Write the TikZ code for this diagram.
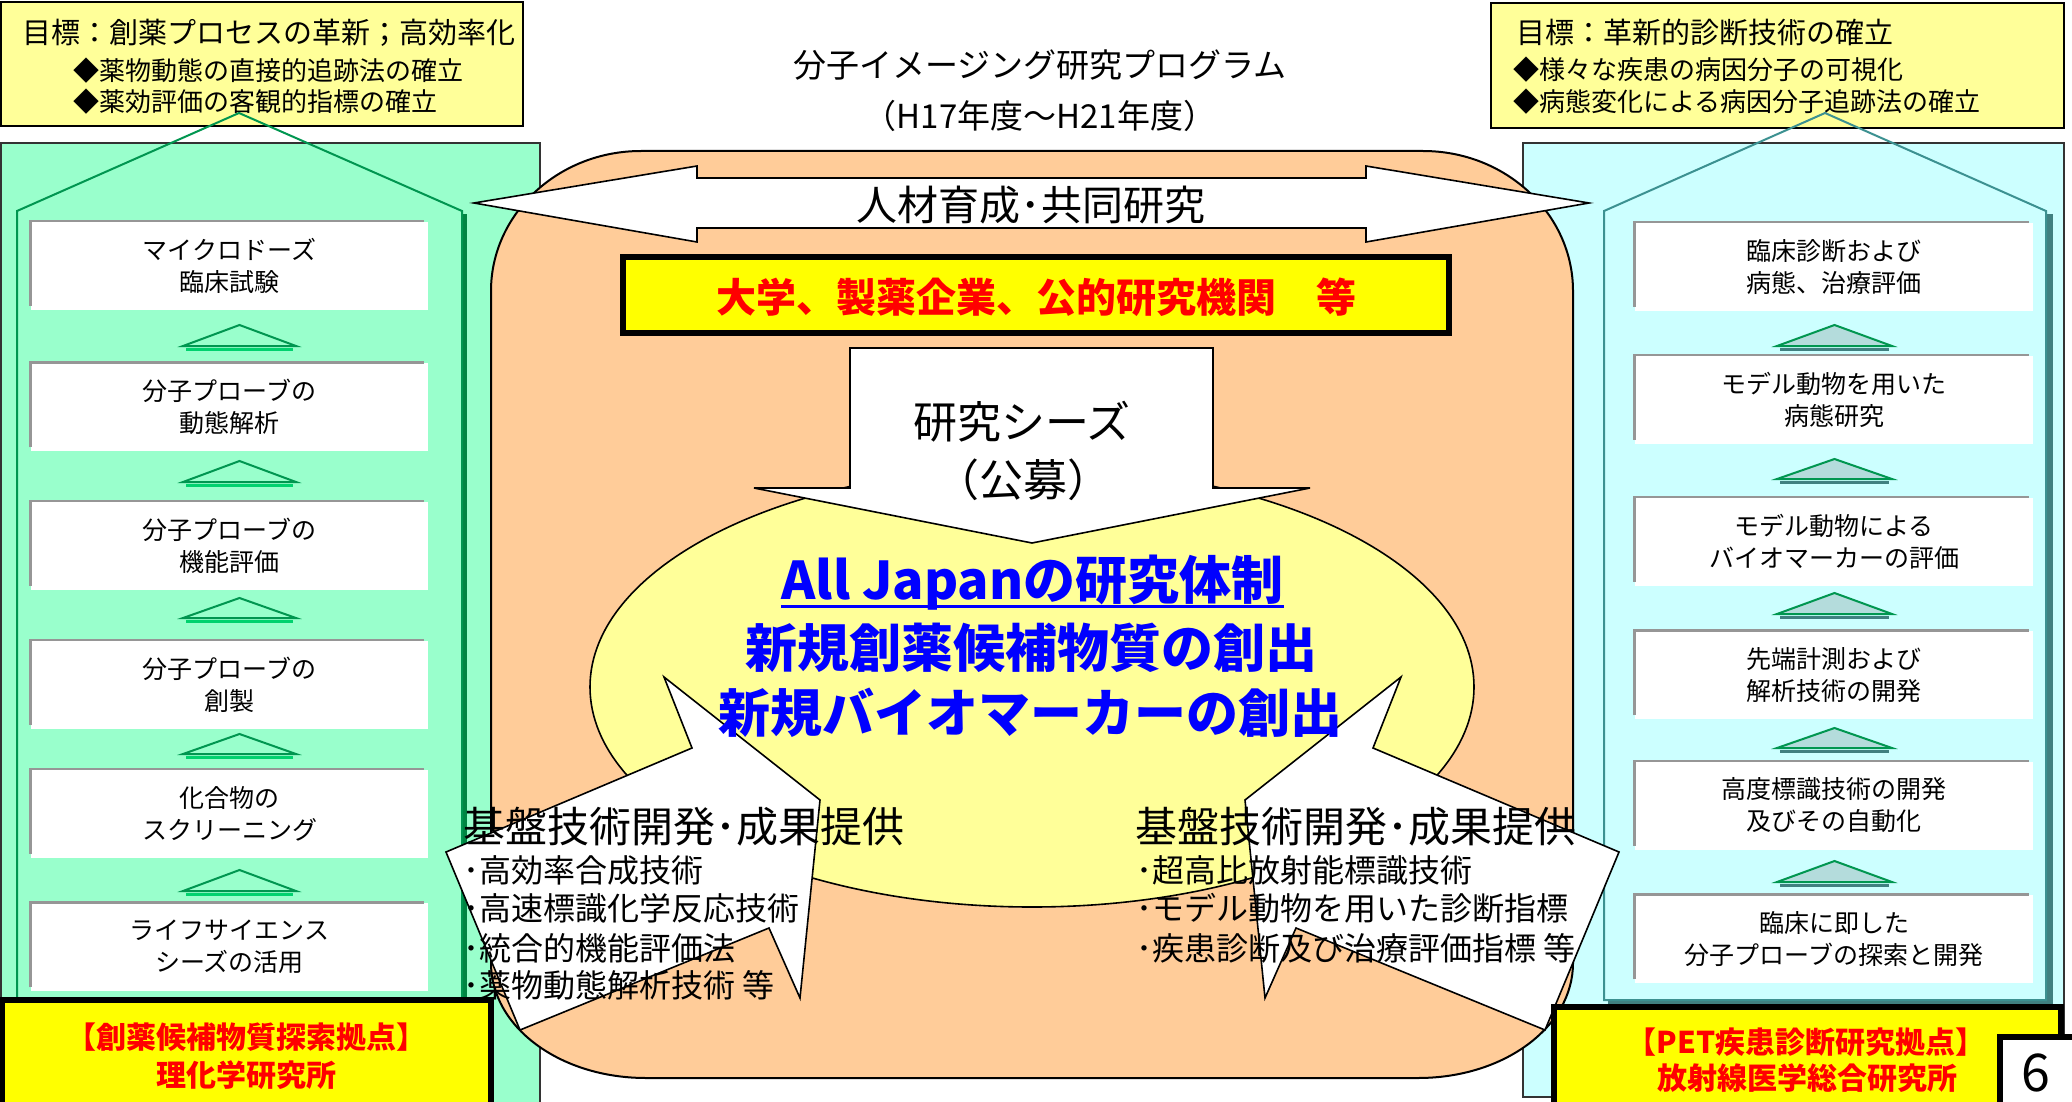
\documentclass[tikz,border=0pt]{standalone}
\usepackage{fontspec}
\setmainfont{Noto Sans CJK JP}
\usetikzlibrary{calc}
\definecolor{lyellow}{RGB}{255,255,153}
\definecolor{pgreen}{RGB}{153,255,204}
\definecolor{pcyan}{RGB}{204,255,255}
\definecolor{peachc}{RGB}{255,204,153}
\definecolor{gline}{RGB}{0,150,80}
\definecolor{gdark}{RGB}{0,133,66}
\definecolor{gbright}{RGB}{0,210,110}
\definecolor{tline}{RGB}{60,145,145}
\definecolor{tdark}{RGB}{64,128,128}
\definecolor{trifill}{RGB}{180,220,220}
\definecolor{cardgray}{RGB}{150,150,150}
\definecolor{pureyellow}{RGB}{255,255,0}
\definecolor{purered}{RGB}{255,0,0}
\definecolor{pureblue}{RGB}{0,0,255}
\newcommand\myfs[2]{\fontsize{#1}{#2}\selectfont}
\begin{document}
\begin{tikzpicture}[x=0.5pt,y=-0.5pt,
  panelL/.style={fill=pgreen,draw=black!80,line width=0.75pt},
  panelR/.style={fill=pcyan,draw=black!80,line width=0.75pt},
  goalbox/.style={fill=lyellow,draw=black,line width=1.1pt},
  pentL/.style={draw=gline,line width=1pt,line join=miter},
  pentshL/.style={draw=gdark,line width=2.5pt},
  pentR/.style={draw=tline,line width=1pt,line join=miter},
  pentshR/.style={draw=tdark,line width=3pt},
  peachshape/.style={fill=peachc,draw=black,line width=1pt},
  wshape/.style={fill=white,draw=black,line width=0.8pt,line join=miter},
  orgbox/.style={fill=pureyellow,draw=black,line width=3pt},
  cardL/.style={fill=white,minimum width=198.5pt,minimum height=44pt,inner sep=0pt,align=center,font=\myfs{12.5}{16}},
  cardR/.style={cardL,minimum width=199pt},
  cardedge/.style={draw=cardgray,line width=1.3pt},
  triL/.style={draw=gline,fill=pgreen,line width=1pt,line join=miter},
  trishL/.style={draw=gbright,line width=1.5pt},
  triR/.style={draw=gline,fill=trifill,line width=1pt,line join=miter},
  trishR/.style={draw=tdark,line width=1.5pt},
  goalhead/.style={anchor=west,inner sep=0pt,font=\myfs{14.5}{17}},
  goalitem/.style={anchor=west,inner sep=0pt,font=\myfs{13}{16}},
  titletext/.style={inner sep=0pt,font=\myfs{16.5}{20}},
  basetitle/.style={anchor=west,inner sep=0pt,font=\myfs{21}{24}},
  bullet/.style={anchor=west,inner sep=0pt,font=\myfs{16}{19}},
  bluetext/.style={inner sep=0pt,text=pureblue,font=\bfseries\myfs{26}{30}},
  redtext/.style={inner sep=0pt,text=purered,font=\bfseries\myfs{15}{18}}
]
\useasboundingbox (0,0) rectangle (2072,1102);
\fill[white] (0,0) rectangle (2072,1102);

% side panels
\draw[panelL] (1,143) rectangle (540,1115);
\draw[panelR] (1523,143) rectangle (2064,1097);

% goal boxes
\draw[goalbox] (1,2) rectangle (523,126);
\draw[goalbox] (1491,3) rectangle (2064,128);
\node[goalhead] (gl1) at (22,33) {目標：創薬プロセスの革新；高効率化};
\node[goalitem] (gl2) at (73,71) {◆薬物動態の直接的追跡法の確立};
\node[goalitem] (gl3) at (73,102) {◆薬効評価の客観的指標の確立};
\node[goalhead] (gr1) at (1516,33) {目標：革新的診断技術の確立};
\node[goalitem] (gr2) at (1513,70) {◆様々な疾患の病因分子の可視化};
\node[goalitem] (gr3) at (1513,102) {◆病態変化による病因分子追跡法の確立};

% pentagons
\draw[pentshL] (464.5,214) -- (464.5,1000);
\draw[pentL] (17,1000) -- (17,211) -- (239,113) -- (462,211) -- (462,1000) -- cycle;
\draw[pentshR] (2049.5,214) -- (2049.5,1003) -- (1608,1003);
\draw[pentR] (1604,1000) -- (1604,211) -- (1825,113) -- (2046,211) -- (2046,1000) -- cycle;

% title
\node[titletext] (title1) at (1040,65) {分子イメージング研究プログラム};
\node[titletext] (title2) at (1040,116) {（H17年度～H21年度）};

% central peach shape
\path[peachshape] (641,151) -- (1423,151) .. controls (1506,151) and (1573,214) .. (1573,291)
  -- (1573,963) .. controls (1573,1027) and (1504,1078) .. (1418,1078)
  -- (646,1078) .. controls (560,1078) and (491,1027) .. (491,963)
  -- (491,291) .. controls (491,214) and (558,151) .. (641,151) -- cycle;

% double arrow
\path[wshape] (474,203) -- (697,166) -- (697,178) -- (1366,178) -- (1366,166) -- (1589,203)
  -- (1366,242) -- (1366,228) -- (697,228) -- (697,242) -- cycle;
\node[inner sep=0pt,font=\myfs{20.5}{24}] (coop) at (1031,205) {人材育成･共同研究};

% organisations box
\draw[orgbox] (623,257) rectangle (1449,333);
\node[inner sep=0pt,text=purered,font=\bfseries\myfs{20}{24}] (orgs) at (1036,297) {大学、製薬企業、公的研究機関　等};

% ellipse
\draw[fill=lyellow,draw=black,line width=0.8pt] (1032,687) ellipse [x radius=442, y radius=220];

% down arrow
\path[wshape] (850,348) -- (1213,348) -- (1213,488) -- (1310,488) -- (1032,543) -- (754,488) -- (850,488) -- cycle;
\node[inner sep=0pt,font=\myfs{22}{26}] (seeds) at (1022,422) {研究シーズ};
\node[inner sep=0pt,font=\myfs{22}{26}] (koubo) at (1023,480) {（公募）};

% callout arrows
\path[wshape] (664,677) -- (820,800) -- (800,998) -- (769,928) -- (520,1030) -- (446,852) -- (692,748) -- cycle;
\path[wshape] (1401,677) -- (1245,800) -- (1265,998) -- (1296,928) -- (1545,1030) -- (1619,852) -- (1373,748) -- cycle;

% blue centre text
\node[bluetext] (aj) at (1032.5,583) {All Japanの研究体制};
\draw[pureblue,line width=1.5pt] ($(aj.base west)+(0,7)$) -- ($(aj.base east)+(0,7)$);
\node[bluetext] (nc) at (1031,648) {新規創薬候補物質の創出};
\node[bluetext] (nb) at (1030.5,713) {新規バイオマーカーの創出};

% callout texts
\node[basetitle] (btl) at (463,827) {基盤技術開発･成果提供};
\node[bullet] (bl1) at (463,870) {･高効率合成技術};
\node[bullet] (bl2) at (463,908) {･高速標識化学反応技術};
\node[bullet] (bl3) at (463,948) {･統合的機能評価法};
\node[bullet] (bl4) at (463,985) {･薬物動態解析技術 等};
\node[basetitle] (btr) at (1135,827) {基盤技術開発･成果提供};
\node[bullet] (br1) at (1136,870) {･超高比放射能標識技術};
\node[bullet] (br2) at (1136,908) {･モデル動物を用いた診断指標};
\node[bullet] (br3) at (1136,948) {･疾患診断及び治療評価指標 等};

% left cards
\node[cardL] (l1) at (229.5,265.5) {マイクロドーズ\\臨床試験};
\node[cardL] (l2) at (229.5,407) {分子プローブの\\動態解析};
\node[cardL] (l3) at (229.5,545.5) {分子プローブの\\機能評価};
\node[cardL] (l4) at (229.5,684.5) {分子プローブの\\創製};
\node[cardL] (l5) at (229.5,813.5) {化合物の\\スクリーニング};
\node[cardL] (l6) at (229.5,947) {ライフサイエンス\\シーズの活用};
\foreach \n in {l1,l2,l3,l4,l5,l6}{
  \draw[cardedge] ([yshift=2pt]\n.south west) -- (\n.north west) -- ([xshift=-2pt]\n.north east);
}
\foreach \a/\b in {325/346,461/482,598/618,734/754,870/891}{
  \draw[trishL] (186,\b+3) -- (293,\b+3);
  \draw[triL] (183,\b) -- (239.5,\a) -- (296,\b) -- cycle;
}

% right cards
\node[cardR] (r1) at (1834,266.5) {臨床診断および\\病態、治療評価};
\node[cardR] (r2) at (1834,399.5) {モデル動物を用いた\\病態研究};
\node[cardR] (r3) at (1834,541.5) {モデル動物による\\バイオマーカーの評価};
\node[cardR] (r4) at (1834,675) {先端計測および\\解析技術の開発};
\node[cardR] (r5) at (1834,805.5) {高度標識技術の開発\\及びその自動化};
\node[cardR] (r6) at (1834,939) {臨床に即した\\分子プローブの探索と開発};
\foreach \n in {r1,r2,r3,r4,r5,r6}{
  \draw[cardedge] ([yshift=2pt]\n.south west) -- (\n.north west) -- ([xshift=-2pt]\n.north east);
}
\foreach \a/\b in {325/346,459/479,593/614,728/748,861/882}{
  \draw[trishR] (1780,\b+3) -- (1889,\b+3);
  \draw[triR] (1777,\b) -- (1834.5,\a) -- (1892,\b) -- cycle;
}

% bottom institute boxes
\draw[orgbox] (2,1000) rectangle (491,1115);
\node[redtext] (riken1) at (246,1037) {【創薬候補物質探索拠点】};
\node[redtext] (riken2) at (246,1075) {理化学研究所};
\draw[orgbox] (1554,1007) rectangle (2061,1115);
\node[redtext] (nirs1) at (1806,1042) {【PET疾患診断研究拠点】};
\node[redtext] (nirs2) at (1807,1078) {放射線医学総合研究所};
\draw[fill=white,draw=black,line width=3pt] (2000,1037) rectangle (2085,1115);
\node[inner sep=0pt,font=\myfs{26}{30}] (pageno) at (2036,1073) {6};
\end{tikzpicture}
\end{document}
